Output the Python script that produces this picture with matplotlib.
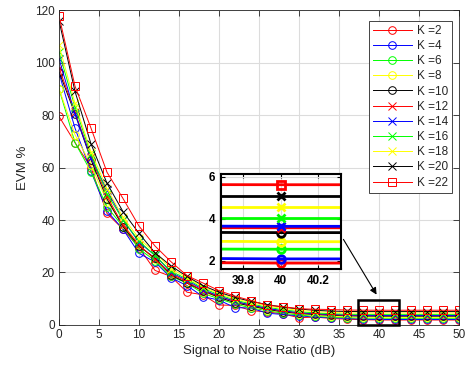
import matplotlib
matplotlib.use("Agg")
import matplotlib.pyplot as plt
from matplotlib.patches import Rectangle, FancyArrowPatch

plt.rcParams['font.family'] = ['Liberation Sans', 'DejaVu Sans']

snr = [0, 2, 4, 6, 8, 10, 12, 14, 16, 18, 20, 22, 24, 26, 28, 30, 32, 34, 36, 38, 40, 42, 44, 46, 48, 50]

labels = ['K =2', 'K =4', 'K =6', 'K =8', 'K =10', 'K =12', 'K =14', 'K =16', 'K =18', 'K =20', 'K =22']

k2 = [79.5, 69.5, 60.0, 42.5, 36.5, 29.5, 20.8, 18.5, 12.5, 11.5, 7.6, 7.5, 5.5, 5.0, 4.2, 2.8, 3.0, 2.5, 2.2, 2.0, 1.9, 1.9, 1.9, 1.9, 1.9, 1.9]
k4 = [96.0, 75.0, 58.5, 43.4, 36.5, 27.3, 24.0, 18.0, 15.0, 10.8, 9.5, 6.6, 6.5, 4.5, 4.0, 3.5, 3.0, 2.8, 2.5, 2.2, 2.1, 2.1, 2.1, 2.1, 2.1, 2.1]
k6 = [90.0, 69.5, 58.4, 45.0, 37.5, 29.0, 24.5, 18.5, 16.0, 12.0, 10.0, 8.0, 6.5, 5.5, 4.5, 3.8, 3.3, 3.0, 2.8, 2.6, 2.56, 2.55, 2.55, 2.55, 2.55, 2.55]
k8 = [90.0, 72.5, 61.0, 47.0, 38.5, 30.5, 25.0, 19.5, 16.5, 12.5, 10.5, 8.5, 7.0, 5.8, 4.9, 4.2, 3.7, 3.3, 3.1, 3.0, 2.92, 2.9, 2.9, 2.9, 2.9, 2.9]
k10 = [96.5, 80.5, 63.0, 48.0, 37.5, 30.0, 25.5, 19.0, 16.0, 13.0, 10.5, 8.5, 7.2, 6.0, 5.0, 4.4, 4.0, 3.7, 3.5, 3.4, 3.35, 3.35, 3.35, 3.35, 3.35, 3.35]
k12 = [98.0, 81.0, 64.0, 49.0, 38.0, 30.5, 25.0, 19.5, 16.5, 13.0, 11.0, 9.0, 7.5, 6.3, 5.3, 4.6, 4.2, 3.9, 3.7, 3.6, 3.58, 3.58, 3.58, 3.58, 3.58, 3.58]
k14 = [101.5, 80.5, 63.5, 51.5, 40.0, 31.5, 26.5, 20.0, 17.0, 13.5, 11.0, 9.0, 7.6, 6.4, 5.4, 4.7, 4.3, 4.0, 3.8, 3.7, 3.65, 3.65, 3.65, 3.65, 3.65, 3.65]
k16 = [104.0, 83.0, 65.0, 50.0, 40.0, 32.0, 26.5, 20.5, 17.5, 14.0, 11.5, 9.5, 8.0, 6.8, 5.8, 5.1, 4.6, 4.3, 4.1, 4.05, 4.05, 4.05, 4.05, 4.05, 4.05, 4.05]
k18 = [106.5, 84.5, 66.0, 52.0, 41.0, 33.0, 27.5, 21.5, 18.0, 14.5, 12.0, 10.0, 8.5, 7.3, 6.3, 5.6, 5.1, 4.8, 4.6, 4.57, 4.57, 4.57, 4.57, 4.57, 4.57, 4.57]
k20 = [116.0, 89.0, 69.0, 54.0, 43.2, 34.9, 27.5, 22.5, 18.5, 15.0, 12.5, 10.5, 9.0, 7.8, 6.8, 6.1, 5.6, 5.3, 5.15, 5.11, 5.11, 5.11, 5.11, 5.11, 5.11, 5.11]
k22 = [117.8, 91.0, 75.0, 58.2, 48.2, 37.7, 30.1, 24.1, 18.8, 16.0, 13.1, 11.0, 9.3, 7.5, 7.0, 6.2, 6.0, 5.9, 5.7, 5.65, 5.63, 5.63, 5.63, 5.63, 5.63, 5.63]

series = [k2, k4, k6, k8, k10, k12, k14, k16, k18, k20, k22]
markers = ['o', 'o', 'o', 'o', 'o', 'x', 'x', 'x', 'x', 'x', 's']
colors = ['#ff0000', '#0000ff', '#00ff00', '#ffff00', '#000000',
          '#ff0000', '#0000ff', '#00ff00', '#ffff00', '#000000', '#ff0000']

axcol = '#262626'

fig = plt.figure(figsize=(4.66, 3.71), dpi=100)
ax = fig.add_axes([0.1266, 0.124, 0.8584, 0.849])

for y, c, m, lab in zip(series, colors, markers, labels):
    ax.plot(snr, y, color=c, marker=m, markersize=5.5, markerfacecolor='none',
            markeredgewidth=0.7, linewidth=0.7, label=lab)

ax.set_xlim(0, 50)
ax.set_ylim(0, 120)
ax.set_xticks(range(0, 51, 5))
ax.set_yticks(range(0, 121, 20))
ax.grid(True, color='#dcdcdc', linewidth=0.8)
ax.set_axisbelow(True)
ax.tick_params(direction='in', labelsize=8.5, length=4, width=0.6, top=True, right=True, pad=3,
               colors=axcol)
for s in ax.spines.values():
    s.set_linewidth(0.6)
    s.set_color(axcol)
ax.set_xlabel('Signal to Noise Ratio (dB)', fontsize=9.5, labelpad=3, color=axcol)
ax.set_ylabel('EVM %', fontsize=9.5, labelpad=4, color=axcol)

leg = ax.legend(loc='upper right', fontsize=8.5, frameon=True, fancybox=False,
                edgecolor=axcol, framealpha=1, handlelength=3.3, labelspacing=0.27,
                borderpad=0.35, handletextpad=0.4, bbox_to_anchor=(0.997, 0.985))
leg.get_frame().set_linewidth(0.6)
for t in leg.get_texts():
    t.set_color(axcol)

# zoom rectangle
ax.add_patch(Rectangle((37.4, 0), 5.1, 9.5, fill=False, edgecolor='black', linewidth=1.8,
                       zorder=5, clip_on=False))

# inset
ins = fig.add_axes([0.474, 0.275, 0.2575, 0.256])
for y, c, m in zip(series, colors, markers):
    ins.plot(snr, y, color=c, marker=m, markersize=5.5, markerfacecolor='none',
             markeredgewidth=2, linewidth=2)
ins.set_xlim(39.68, 40.32)
ins.set_ylim(1.62, 6.14)
ins.set_xticks([39.8, 40, 40.2])
ins.set_xticklabels(['39.8', '40', '40.2'])
ins.set_yticks([2, 4, 6])
ins.grid(True, color='#dcdcdc', linewidth=0.8)
ins.tick_params(direction='in', labelsize=8.5, length=3, width=0.8, top=True, right=True, pad=4)
for lab in ins.get_xticklabels() + ins.get_yticklabels():
    lab.set_fontweight('bold')
for s in ins.spines.values():
    s.set_linewidth(1.5)

# arrow
fig.patches.append(FancyArrowPatch(
    (342 / 466, 1 - 237 / 371), (378 / 466, 1 - 297 / 371),
    transform=fig.transFigure, arrowstyle='-|>', mutation_scale=10,
    color='black', linewidth=0.8))

fig.savefig('out.png', dpi=100)
